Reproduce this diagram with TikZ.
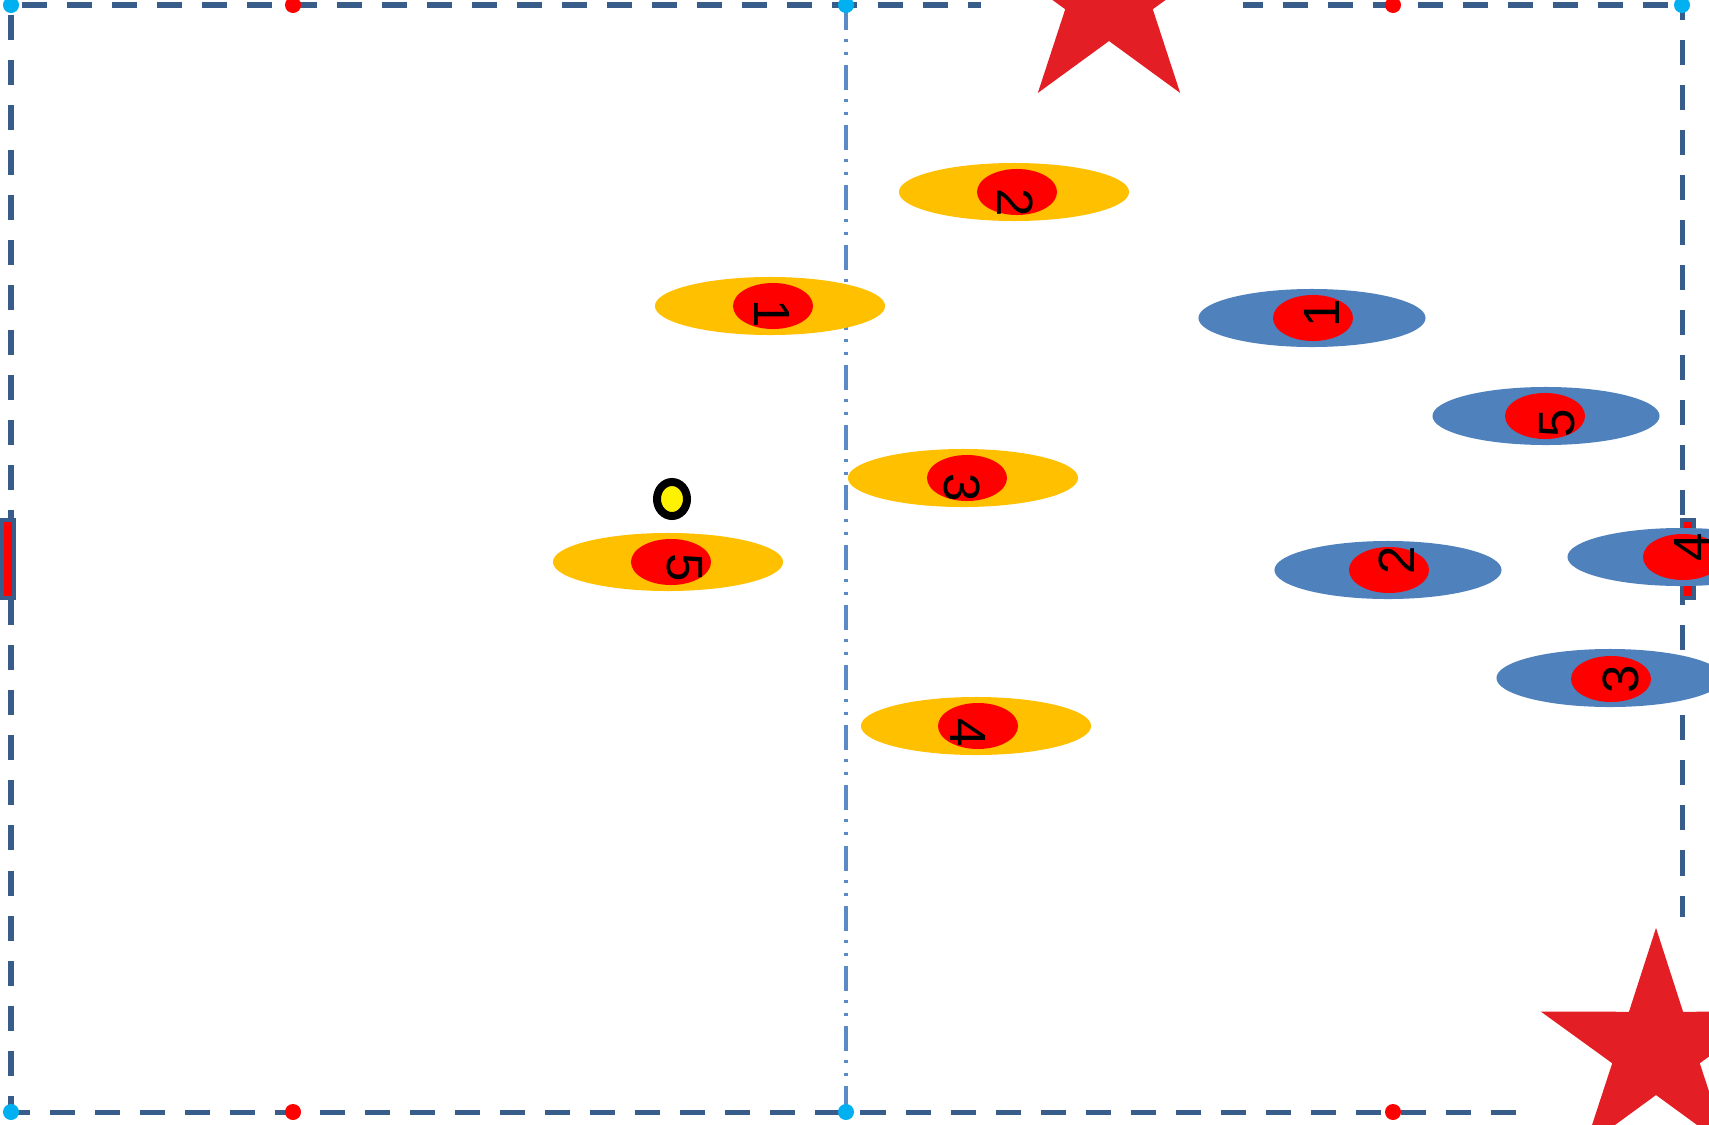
\documentclass[tikz,border=0pt]{standalone}
\usepackage{fontspec}
\setmainfont{Liberation Sans}
\usetikzlibrary{shapes.geometric,positioning}

\definecolor{linedark}{RGB}{56,93,138}
\definecolor{linemid}{RGB}{91,139,198}
\definecolor{spotcyan}{RGB}{0,176,240}
\definecolor{teamyel}{RGB}{255,192,0}
\definecolor{teamblu}{RGB}{79,129,189}
\definecolor{starred}{RGB}{227,30,36}

\begin{document}
\begin{tikzpicture}[x=0.01cm, y=-0.01cm,
    touch/.style={draw=linedark, line width=0.05cm, dash pattern=on 0.25cm off 0.2cm, dash phase=0.34cm},
    half/.style={draw=linemid, line width=0.035cm,
      dash pattern=on 0.25cm off 0.09cm on 0.03cm off 0.1cm on 0.03cm off 0.1cm},
    goal/.style={draw=linedark, fill=red, line width=0.04cm, minimum width=0.12cm,
      minimum height=0.78cm, inner sep=0},
    cspot/.style={circle, fill=spotcyan, minimum size=0.16cm, inner sep=0},
    rspot/.style={cspot, fill=red},
    yel/.style={ellipse, fill=teamyel, minimum width=2.3cm, minimum height=0.58cm, inner sep=0},
    blu/.style={yel, fill=teamblu, minimum width=2.27cm},
    core/.style={ellipse, fill=red, minimum width=0.8cm, minimum height=0.46cm, inner sep=0},
    num/.style={inner sep=0, font=\fontsize{14.5}{15}\selectfont},
    ynum/.style={num, rotate=-90},
    bnum/.style={num, rotate=90},
  ]
  \useasboundingbox (0,0) rectangle (1709,1124);
  \clip (0,0) rectangle (1709,1124);
  \fill[white] (0,0) rectangle (1709,1124);

  % pitch
  \coordinate (tl) at (11,5);
  \coordinate (tm) at (846,5);
  \coordinate (tr) at (1682,5);
  \coordinate (bl) at (11,1112);
  \coordinate (bm) at (846,1112);
  \coordinate (br) at (1682,1112);
  \draw[half] (tm) -- (bm);
  \draw[touch] (tl) -- (tr);
  \draw[touch, dash phase=0.35cm] (tl) -- (bl);
  \draw[touch, dash phase=0.06cm] (bl) -- (br);
  \draw[touch, dash phase=0.1cm] (tr) -- (br);
  \node[goal] (lgoal) at (8,559) {};
  \node[goal] (rgoal) at (1688,559) {};
  \node[cspot] (stl) at (tl) {};
  \node[cspot] (stm) at (tm) {};
  \node[cspot] (str) at (tr) {};
  \node[cspot] (sbl) at (bl) {};
  \node[cspot] (sbm) at (bm) {};
  \node[rspot] (rtl) at (293,5) {};
  \node[rspot] (rtr) at (1393,5) {};
  \node[rspot] (rbl) at (293,1112) {};
  \node[rspot] (rbr) at (1393,1112) {};

  % stars
  \fill[white] (981,-10) rectangle (1243,97);
  \fill[white] (1527,917) rectangle (1720,1130);
  \fill[starred, shift={(1109,-5)}] (90:1.21cm) -- (126:0.46cm) -- (162:1.21cm) -- (198:0.46cm)
    -- (234:1.21cm) -- (270:0.46cm) -- (306:1.21cm) -- (342:0.46cm) -- (18:1.21cm) -- (54:0.46cm) -- cycle;
  \fill[starred, shift={(1656,1049)}] (90:1.21cm) -- (126:0.46cm) -- (162:1.21cm) -- (198:0.46cm)
    -- (234:1.21cm) -- (270:0.46cm) -- (306:1.21cm) -- (342:0.46cm) -- (18:1.21cm) -- (54:0.46cm) -- cycle;

  % yellow team
  \node[yel] (y1) at (770,306) {};
  \node[core] (y1c) at (773,306) {};
  \node[ynum] (y1n) at (772,314) {1};
  \node[yel] (y2) at (1014,192) {};
  \node[core] (y2c) at (1017,192) {};
  \node[ynum] (y2n) at (1015,203) {2};
  \node[yel] (y3) at (963,478) {};
  \node[core] (y3c) at (967,478) {};
  \node[ynum] (y3n) at (962,488) {3};
  \node[yel] (y4) at (976,726) {};
  \node[core] (y4c) at (978,726) {};
  \node[ynum] (y4n) at (968,733) {4};
  \node[yel] (y5) at (668,562) {};
  \node[core] (y5c) at (671,562) {};
  \node[ynum] (y5n) at (685,568) {5};

  % blue team
  \node[blu] (b1) at (1312,318) {};
  \node[core] (b1c) at (1313,318) {};
  \node[bnum] (b1n) at (1322,313) {1};
  \node[blu] (b2) at (1388,570) {};
  \node[core] (b2c) at (1389,570) {};
  \node[bnum] (b2n) at (1397,560) {2};
  \node[blu] (b3) at (1610,678) {};
  \node[core] (b3c) at (1611,679) {};
  \node[bnum] (b3n) at (1621,679) {3};
  \node[blu] (b4) at (1681,557) {};
  \node[core] (b4c) at (1683,557) {};
  \node[bnum] (b4n) at (1692,547) {4};
  \node[blu] (b5) at (1546,416) {};
  \node[core] (b5c) at (1545,416) {};
  \node[bnum] (b5n) at (1557,423) {5};

  % ball
  \node[ellipse, draw=black, line width=0.08cm, fill=yellow, minimum width=0.3cm,
    minimum height=0.34cm, inner sep=0] (ball) at (672,499) {};
\end{tikzpicture}
\end{document}
